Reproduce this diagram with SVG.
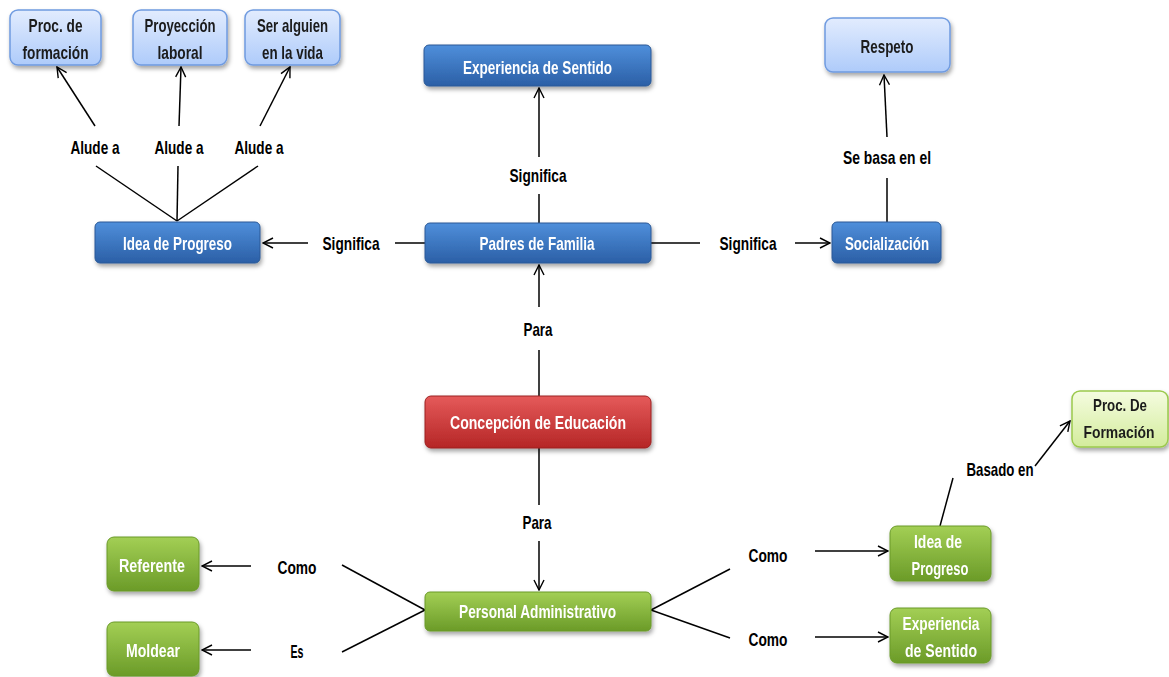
<svg xmlns="http://www.w3.org/2000/svg" width="1169" height="677" viewBox="0 0 1169 677">
<defs>
<linearGradient id="gBlue" x1="0" y1="0" x2="0" y2="1"><stop offset="0" stop-color="#4f8fdb"/><stop offset="1" stop-color="#2b5fa6"/></linearGradient>
<linearGradient id="gLBlue" x1="0" y1="0" x2="0" y2="1"><stop offset="0" stop-color="#e2ecfe"/><stop offset="1" stop-color="#aecbfa"/></linearGradient>
<linearGradient id="gRed" x1="0" y1="0" x2="0" y2="1"><stop offset="0" stop-color="#e55a5a"/><stop offset="1" stop-color="#b52626"/></linearGradient>
<linearGradient id="gGreen" x1="0" y1="0" x2="0" y2="1"><stop offset="0" stop-color="#a3cf55"/><stop offset="1" stop-color="#6b9b28"/></linearGradient>
<linearGradient id="gLGreen" x1="0" y1="0" x2="0" y2="1"><stop offset="0" stop-color="#f5fce0"/><stop offset="1" stop-color="#d3ec9c"/></linearGradient>
<filter id="sh" x="-10%" y="-20%" width="125%" height="150%"><feDropShadow dx="1.5" dy="3" stdDeviation="2" flood-color="#000" flood-opacity="0.35"/></filter>
<marker id="ar" viewBox="0 0 12 12" refX="11" refY="6" markerWidth="12" markerHeight="12" markerUnits="userSpaceOnUse" orient="auto"><path d="M1,1 L11,6 L1,11" fill="none" stroke="#000" stroke-width="1.4"/></marker>
<style>
text{font-family:"Liberation Sans","DejaVu Sans",sans-serif;font-weight:bold;text-anchor:middle;dominant-baseline:central}
.n{filter:url(#sh)}
.blue{fill:url(#gBlue);stroke:#2a5896;stroke-width:1}
.lblue{fill:url(#gLBlue);stroke:#6f9be0;stroke-width:1.5}
.red{fill:url(#gRed);stroke:#9b2020;stroke-width:1}
.green{fill:url(#gGreen);stroke:#6a9a28;stroke-width:1}
.lgreen{fill:url(#gLGreen);stroke:#9bc94c;stroke-width:1.5}
.w{fill:#fff;font-size:19px}
.d{fill:#1a1a1a;font-size:19px}
.d.s{font-size:17px}
.lab{fill:#000;font-size:19px}
.c line{stroke:#000;stroke-width:1.5}
.c .a{marker-end:url(#ar)}
</style>
</defs>
<rect width="1169" height="677" fill="#fff"/>

<g class="c" id="connectors">
<line x1="177" y1="221" x2="96" y2="166"/>
<line x1="177" y1="221" x2="178" y2="166"/>
<line x1="177" y1="221" x2="258" y2="166"/>
<line class="a" x1="95" y1="126" x2="57" y2="67"/>
<line class="a" x1="179" y1="126" x2="181" y2="67"/>
<line class="a" x1="260" y1="126" x2="290" y2="67"/>
<line x1="425" y1="243" x2="395" y2="243"/>
<line class="a" x1="308" y1="243" x2="263" y2="243"/>
<line x1="539" y1="223" x2="539" y2="194"/>
<line class="a" x1="539" y1="157" x2="539" y2="88"/>
<line x1="651" y1="243" x2="700" y2="243"/>
<line class="a" x1="795" y1="243" x2="830" y2="243"/>
<line x1="887" y1="222" x2="887" y2="178"/>
<line class="a" x1="887" y1="137" x2="884" y2="75"/>
<line x1="539" y1="396" x2="539" y2="350"/>
<line class="a" x1="539" y1="307" x2="539" y2="265"/>
<line x1="539" y1="448" x2="539" y2="505"/>
<line class="a" x1="539" y1="541" x2="539" y2="590"/>
<line x1="425" y1="610" x2="342" y2="565"/>
<line x1="425" y1="610" x2="342" y2="652"/>
<line class="a" x1="251" y1="566" x2="202" y2="566"/>
<line class="a" x1="251" y1="650" x2="202" y2="650"/>
<line x1="651" y1="610" x2="730" y2="569"/>
<line x1="651" y1="610" x2="730" y2="638"/>
<line class="a" x1="815" y1="551" x2="888" y2="551"/>
<line class="a" x1="815" y1="637" x2="888" y2="637"/>
<line x1="940" y1="526" x2="953" y2="478"/>
<line class="a" x1="1035" y1="466" x2="1070" y2="421"/>
<text class="lab" x="95" y="147" textLength="49" lengthAdjust="spacingAndGlyphs">Alude a</text>
<text class="lab" x="179" y="147" textLength="49" lengthAdjust="spacingAndGlyphs">Alude a</text>
<text class="lab" x="259" y="147" textLength="49" lengthAdjust="spacingAndGlyphs">Alude a</text>
<text class="lab" x="351" y="243" textLength="57" lengthAdjust="spacingAndGlyphs">Significa</text>
<text class="lab" x="538" y="175" textLength="57" lengthAdjust="spacingAndGlyphs">Significa</text>
<text class="lab" x="748" y="243" textLength="57" lengthAdjust="spacingAndGlyphs">Significa</text>
<text class="lab" x="887" y="157" textLength="88" lengthAdjust="spacingAndGlyphs">Se basa en el</text>
<text class="lab" x="538" y="329" textLength="29" lengthAdjust="spacingAndGlyphs">Para</text>
<text class="lab" x="537" y="522" textLength="29" lengthAdjust="spacingAndGlyphs">Para</text>
<text class="lab" x="297" y="567" textLength="39" lengthAdjust="spacingAndGlyphs">Como</text>
<text class="lab" x="297" y="651" textLength="13" lengthAdjust="spacingAndGlyphs">Es</text>
<text class="lab" x="768" y="555" textLength="39" lengthAdjust="spacingAndGlyphs">Como</text>
<text class="lab" x="768" y="639" textLength="39" lengthAdjust="spacingAndGlyphs">Como</text>
<text class="lab" x="1000" y="469" textLength="67" lengthAdjust="spacingAndGlyphs">Basado en</text>
</g>

<g id="proc-formacion" class="n"><rect class="lblue" x="10" y="10" width="91" height="55" rx="8"/><text class="d" x="55.5" y="25" textLength="54" lengthAdjust="spacingAndGlyphs">Proc. de</text><text class="d" x="55.5" y="52" textLength="66" lengthAdjust="spacingAndGlyphs">formación</text></g>
<g id="proyeccion" class="n"><rect class="lblue" x="133" y="10" width="94" height="55" rx="8"/><text class="d" x="180" y="25" textLength="71" lengthAdjust="spacingAndGlyphs">Proyección</text><text class="d" x="180" y="52" textLength="45" lengthAdjust="spacingAndGlyphs">laboral</text></g>
<g id="ser-alguien" class="n"><rect class="lblue" x="245" y="10" width="95" height="55" rx="8"/><text class="d" x="292.5" y="25" textLength="71" lengthAdjust="spacingAndGlyphs">Ser alguien</text><text class="d" x="292.5" y="52" textLength="61" lengthAdjust="spacingAndGlyphs">en la vida</text></g>
<g id="experiencia" class="n"><rect class="blue" x="424" y="45" width="227" height="41" rx="5"/><text class="w" x="537.5" y="67" textLength="149" lengthAdjust="spacingAndGlyphs">Experiencia de Sentido</text></g>
<g id="respeto" class="n"><rect class="lblue" x="825" y="18" width="125" height="54" rx="8"/><text class="d" x="887" y="46" textLength="53" lengthAdjust="spacingAndGlyphs">Respeto</text></g>
<g id="idea-progreso" class="n"><rect class="blue" x="95" y="222" width="165" height="41" rx="5"/><text class="w" x="177.5" y="243" textLength="109" lengthAdjust="spacingAndGlyphs">Idea de Progreso</text></g>
<g id="padres" class="n"><rect class="blue" x="425" y="223" width="226" height="40" rx="5"/><text class="w" x="537" y="243" textLength="115" lengthAdjust="spacingAndGlyphs">Padres de Familia</text></g>
<g id="socializacion" class="n"><rect class="blue" x="832" y="222" width="109" height="41" rx="5"/><text class="w" x="887" y="243" textLength="84" lengthAdjust="spacingAndGlyphs">Socialización</text></g>
<g id="concepcion" class="n"><rect class="red" x="425" y="396" width="226" height="52" rx="6"/><text class="w" x="538" y="422" textLength="176" lengthAdjust="spacingAndGlyphs">Concepción  de Educación</text></g>
<g id="proc-de-formacion" class="n"><rect class="lgreen" x="1072" y="391" width="96" height="56" rx="8"/><text class="d s" x="1120" y="405" textLength="54" lengthAdjust="spacingAndGlyphs">Proc. De</text><text class="d s" x="1119" y="432" textLength="71" lengthAdjust="spacingAndGlyphs">Formación</text></g>
<g id="personal" class="n"><rect class="green" x="425" y="592" width="226" height="39" rx="5"/><text class="w" x="537.5" y="611" textLength="157" lengthAdjust="spacingAndGlyphs">Personal Administrativo</text></g>
<g id="referente" class="n"><rect class="green" x="107" y="537" width="92" height="54" rx="7"/><text class="w" x="152" y="565" textLength="66" lengthAdjust="spacingAndGlyphs">Referente</text></g>
<g id="moldear" class="n"><rect class="green" x="107" y="622" width="92" height="54" rx="7"/><text class="w" x="153" y="650" textLength="54" lengthAdjust="spacingAndGlyphs">Moldear</text></g>
<g id="idea-progreso-2" class="n"><rect class="green" x="890" y="526" width="101" height="55" rx="7"/><text class="w" x="938" y="541" textLength="48" lengthAdjust="spacingAndGlyphs">Idea de</text><text class="w" x="940" y="568" textLength="57" lengthAdjust="spacingAndGlyphs">Progreso</text></g>
<g id="experiencia-2" class="n"><rect class="green" x="890" y="608" width="101" height="55" rx="7"/><text class="w" x="941" y="623" textLength="77" lengthAdjust="spacingAndGlyphs">Experiencia</text><text class="w" x="941" y="650" textLength="72" lengthAdjust="spacingAndGlyphs">de Sentido</text></g>
</svg>
